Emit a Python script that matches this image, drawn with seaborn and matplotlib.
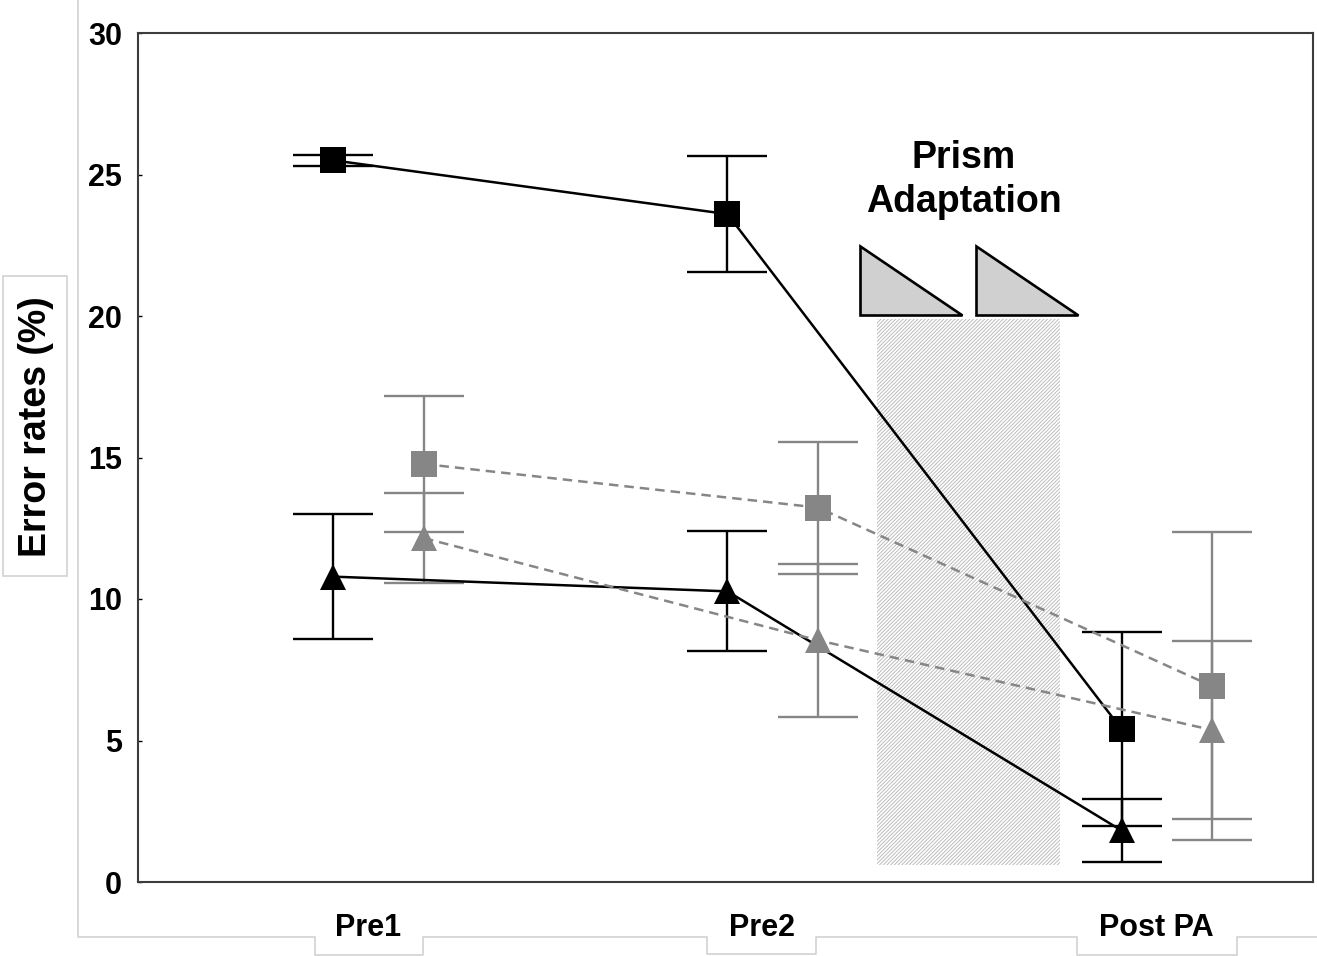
"""Error rates before and after prism adaptation."""
import matplotlib
matplotlib.use("Agg")
import matplotlib.pyplot as plt
from matplotlib.lines import Line2D
from matplotlib.patches import Rectangle, Polygon
import numpy as np
import seaborn as sns

categories = ["Pre1", "Pre2", "Post PA"]
black_square = [25.5, 23.6, 5.4]
black_square_err = [0.2, 2.06, 3.42]
black_triangle = [10.79, 10.27, 1.82]
black_triangle_err = [2.21, 2.12, 1.13]
gray_square = [14.77, 13.23, 6.92]
gray_square_err = [2.4, 2.33, 5.43]
gray_triangle = [12.15, 8.54, 5.37]
gray_triangle_err = [1.6, 2.7, 3.15]
y_ticks = [0, 5, 10, 15, 20, 25, 30]

W, H = 1317, 956
BLACK = "#000000"
GRAY = "#868686"
FRAME = "#d2d2d2"

sns.set_theme(style="white")
plt.rcParams["font.family"] = ["Liberation Sans", "DejaVu Sans"]
plt.rcParams["font.weight"] = "bold"
plt.rcParams["text.color"] = "black"
plt.rcParams["hatch.linewidth"] = 0.65


def px(x, y):
    return x / W, 1 - y / H


fig = plt.figure(figsize=(W / 100, H / 100), dpi=100)
ax = fig.add_axes([138 / W, 1 - 882 / H, (1313 - 138) / W, (882 - 33) / H])

pos = np.arange(len(categories))
series = [
    (black_square, black_square_err, BLACK, "s", -0.088, "-"),
    (black_triangle, black_triangle_err, BLACK, "^", -0.088, "-"),
    (gray_square, gray_square_err, GRAY, "s", 0.142, (0, (3.8, 2.4))),
    (gray_triangle, gray_triangle_err, GRAY, "^", 0.142, (0, (3.8, 2.4))),
]

# prism adaptation period: hatched band and two prism wedges
band = Rectangle((1.292, 0.6), 1.756 - 1.292, 19.9 - 0.6, facecolor="none",
                 edgecolor="#b8b8b8", hatch="/" * 9, linewidth=0, zorder=1)
ax.add_patch(band)
for x0, x1 in [(1.249, 1.507), (1.543, 1.802)]:
    ax.add_patch(Polygon([(x0, 22.47), (x0, 20.03), (x1, 20.03)], closed=True,
                         facecolor="#d1d0d1", edgecolor="black", linewidth=1.9,
                         zorder=2))
ax.text(1.512, 24.8, "Prism\nAdaptation", ha="center", va="center",
        fontsize=27, fontweight="bold", linespacing=1.3, color="black")

for vals, err, color, marker, off, ls in series:
    xs = pos + off
    ax.errorbar(xs, vals, yerr=err, fmt="none", ecolor=color, elinewidth=1.7,
                capsize=29, capthick=1.7, zorder=3)
    sns.lineplot(x=xs, y=vals, ax=ax, color=color, linestyle=ls,
                 linewidth=1.8, marker=marker, markersize=19,
                 markeredgewidth=0, sort=False, zorder=4)

ax.set_xlim(-0.584, 2.398)
ax.set_ylim(0, 30)
ax.set_yticks(y_ticks)
ax.set_yticklabels([str(t) for t in y_ticks], fontsize=22, fontweight="bold")
ax.set_xticks(pos)
ax.set_xticklabels(categories, fontsize=22, fontweight="bold")
ax.tick_params(axis="y", direction="in", length=3, width=1, pad=11.5,
               left=True, colors="black")
ax.tick_params(axis="x", length=0, pad=22, colors="black")
ax.set_xlabel("")
ax.set_ylabel("")
for sp in ax.spines.values():
    sp.set_color("#3c3c3c")
    sp.set_linewidth(1.5)

# outer frame with label tabs
frame_pts = [(78, 0), (78, 937), (315, 937), (315, 955), (423, 955), (423, 937),
             (707, 937), (707, 954), (816, 954), (816, 937), (1077, 937),
             (1077, 955), (1237, 955), (1237, 937), (1317, 937)]
fx, fy = zip(*[px(a, b) for a, b in frame_pts])
fig.add_artist(Line2D(fx, fy, color=FRAME, linewidth=1.2,
                      transform=fig.transFigure))

x0, y0 = px(3, 576)
fig.add_artist(Rectangle((x0, y0), 64 / W, 300 / H, facecolor="none",
                         edgecolor=FRAME, linewidth=1.2,
                         transform=fig.transFigure))
fig.text(*px(36, 427), "Error rates (%)", rotation=90, ha="center",
         va="center", fontsize=27, fontweight="bold", color="black")

fig.savefig("out.png", dpi=100)
